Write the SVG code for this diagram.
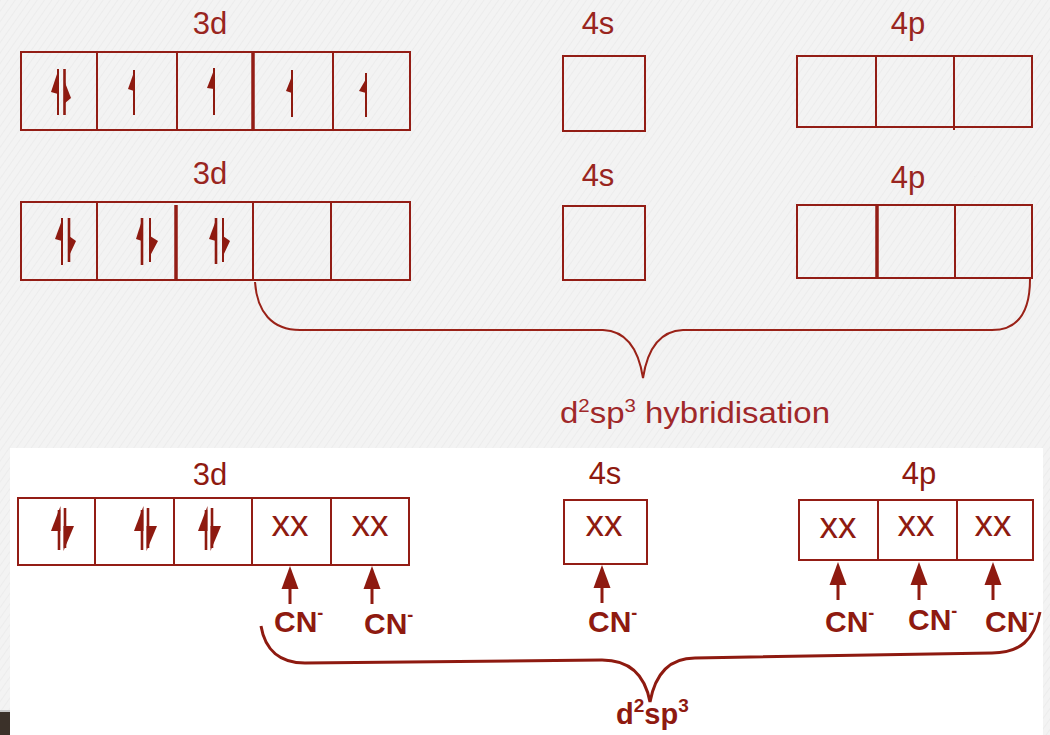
<svg xmlns="http://www.w3.org/2000/svg" width="1050" height="735" viewBox="0 0 1050 735">
  <style>
    .box { fill: none; stroke: #931d15; stroke-width: 2; }
    .thick { stroke: #931d15; stroke-width: 3.5; }
    .div { stroke: #931d15; stroke-width: 2; }
    .lbl { font-family: "Liberation Sans", Arial, sans-serif; font-size: 31px; fill: #992520; text-anchor: middle; }
    .lbl2 { font-family: "Liberation Sans", Arial, sans-serif; font-size: 31px; fill: #8e1a10; text-anchor: middle; }
    .xx { font-family: "Liberation Sans", Arial, sans-serif; font-size: 37px; fill: #8e1a10; text-anchor: middle; }
    .cn { font-family: "Liberation Sans", Arial, sans-serif; font-size: 30px; font-weight: bold; fill: #8e1a10; }
    .sup { font-size: 18px; }
    .e { stroke: #8e1a10; stroke-width: 2; fill: none; }
    .eb { stroke: #8e1a10; stroke-width: 2.6; fill: none; }
    .h { fill: #8e1a10; }
    .brace { fill: none; stroke: #9a2218; stroke-width: 2; }
    .brace2 { fill: none; stroke: #8e1a10; stroke-width: 3; }
    .lig { stroke: #8e1a10; stroke-width: 3; }
    .tip { fill: #8e1a10; }
  </style>
  <defs>
    <pattern id="grain" width="6" height="6" patternUnits="userSpaceOnUse" patternTransform="rotate(35)">
      <rect width="6" height="6" fill="#f3f3f3"/>
      <line x1="0" y1="0" x2="0" y2="6" stroke="#ececec" stroke-width="2"/>
    </pattern>
    <!-- donation arrow: tip at origin, pointing up -->
    <g id="donor">
      <line class="lig" x1="0" y1="18" x2="0" y2="38"/>
      <path class="tip" d="M0 0 L8.5 23 L-8.5 23 Z"/>
    </g>
  </defs>

  <!-- page backgrounds -->
  <rect x="0" y="0" width="1050" height="735" fill="url(#grain)"/>
  <rect x="10" y="448" width="1033" height="287" fill="#ffffff"/>
  <rect x="0" y="710" width="10" height="2" fill="#c8c8c8"/>
  <rect x="0" y="712" width="10" height="23" fill="#3b3129"/>

  <!-- ground state: 3d -->
  <g id="ground-3d">
    <text class="lbl" x="210" y="34">3d</text>
    <rect class="box" x="21" y="52" width="389" height="78"/>
    <line class="div" x1="97" y1="52" x2="97" y2="130"/>
    <line class="div" x1="177" y1="52" x2="177" y2="130"/>
    <line class="thick" x1="253" y1="52" x2="253" y2="130"/>
    <line class="div" x1="333" y1="52" x2="333" y2="130"/>
    <!-- paired electrons -->
    <line class="e" x1="58" y1="69" x2="58" y2="115"/>
    <path class="h" d="M58 71 L58 94 L51 92 Z"/>
    <line class="eb" x1="64.5" y1="69" x2="64.5" y2="115"/>
    <path class="h" d="M64 80 L71 98 L64 104 Z"/>
    <!-- unpaired electrons -->
    <line class="e" x1="134" y1="70" x2="134" y2="115"/>
    <path class="h" d="M134 72 L134 91 L128 89 Z"/>
    <line class="e" x1="214" y1="68" x2="214" y2="115"/>
    <path class="h" d="M214 70 L214 89 L207 88 Z"/>
    <line class="e" x1="292" y1="70" x2="292" y2="117"/>
    <path class="h" d="M292 76 L292 93 L286 91 Z"/>
    <line class="e" x1="366" y1="73" x2="366" y2="117"/>
    <path class="h" d="M366 79 L366 93 L359 91 Z"/>
  </g>

  <!-- ground state: 4s -->
  <g id="ground-4s">
    <text class="lbl" x="598" y="34">4s</text>
    <rect class="box" x="563" y="56" width="82" height="75"/>
  </g>

  <!-- ground state: 4p -->
  <g id="ground-4p">
    <text class="lbl" x="908" y="34">4p</text>
    <rect class="box" x="797" y="56" width="235" height="71"/>
    <line class="div" x1="876" y1="56" x2="876" y2="127"/>
    <line class="div" x1="954" y1="56" x2="954" y2="130"/>
  </g>

  <!-- excited state: 3d -->
  <g id="paired-3d">
    <text class="lbl" x="210" y="184">3d</text>
    <rect class="box" x="21" y="202" width="389" height="78"/>
    <line class="div" x1="97" y1="202" x2="97" y2="280"/>
    <line class="thick" x1="176" y1="205" x2="176" y2="280"/>
    <line class="div" x1="253" y1="202" x2="253" y2="280"/>
    <line class="div" x1="331" y1="202" x2="331" y2="280"/>
    <line class="e" x1="62" y1="218" x2="62" y2="265"/>
    <path class="h" d="M62 220 L62 241 L55 239 Z"/>
    <line class="eb" x1="69" y1="218" x2="69" y2="262"/>
    <path class="h" d="M69 236 L76 241 L69 256 Z"/>
    <line class="eb" x1="142" y1="218" x2="142" y2="265"/>
    <path class="h" d="M142 220 L142 241 L136 239 Z"/>
    <line class="e" x1="150" y1="218" x2="150" y2="262"/>
    <path class="h" d="M150 236 L158 241 L150 256 Z"/>
    <line class="eb" x1="216" y1="218" x2="216" y2="264"/>
    <path class="h" d="M216 220 L216 241 L209 239 Z"/>
    <line class="e" x1="223" y1="218" x2="223" y2="262"/>
    <path class="h" d="M223 236 L230 241 L223 256 Z"/>
  </g>

  <!-- excited state: 4s -->
  <g id="paired-4s">
    <text class="lbl" x="598" y="186">4s</text>
    <rect class="box" x="563" y="206" width="82" height="74"/>
  </g>

  <!-- excited state: 4p -->
  <g id="paired-4p">
    <text class="lbl" x="908" y="188">4p</text>
    <rect class="box" x="797" y="205" width="235" height="73"/>
    <line class="thick" x1="877" y1="205" x2="877" y2="278"/>
    <line class="div" x1="955" y1="205" x2="955" y2="278"/>
  </g>

  <!-- hybridisation brace and caption -->
  <g id="hybrid-brace">
    <path class="brace" d="M255 282 C257 312 272 330 300 330 L603 330 C628 331 639 352 643 378 C647 352 658 331 683 330 L992 330 C1016 330 1030 314 1030 279"/>
    <text font-family="'Liberation Sans', Arial, sans-serif" font-size="29" fill="#a0282a" x="560" y="423" textLength="270" lengthAdjust="spacingAndGlyphs">d<tspan font-size="18" dy="-11">2</tspan><tspan dy="11">sp</tspan><tspan font-size="18" dy="-11">3</tspan><tspan dy="11"> hybridisation</tspan></text>
  </g>

  <!-- complex: 3d -->
  <g id="complex-3d">
    <text class="lbl2" x="210" y="485">3d</text>
    <rect class="box" x="18" y="498" width="391" height="67" stroke-width="2.5"/>
    <line class="div" x1="95" y1="498" x2="95" y2="565"/>
    <line class="div" x1="174" y1="498" x2="174" y2="565"/>
    <line class="div" x1="252" y1="498" x2="252" y2="565"/>
    <line class="div" x1="331" y1="498" x2="331" y2="565"/>
    <line class="eb" x1="59" y1="510" x2="59" y2="550"/>
    <path class="h" d="M60.5 506 L60.5 531 L51 531 Z"/>
    <line class="eb" x1="65" y1="508" x2="65" y2="548"/>
    <path class="h" d="M63.5 551 L63.5 526 L74 526 Z"/>
    <line class="eb" x1="142" y1="510" x2="142" y2="550"/>
    <path class="h" d="M143.5 506 L143.5 531 L134 531 Z"/>
    <line class="eb" x1="148" y1="508" x2="148" y2="548"/>
    <path class="h" d="M146.5 551 L146.5 526 L157 526 Z"/>
    <line class="eb" x1="206" y1="510" x2="206" y2="550"/>
    <path class="h" d="M207.5 506 L207.5 531 L198 531 Z"/>
    <line class="eb" x1="212" y1="508" x2="212" y2="548"/>
    <path class="h" d="M210.5 551 L210.5 526 L221 526 Z"/>
    <text class="xx" x="290" y="536">xx</text>
    <text class="xx" x="370" y="536">xx</text>
  </g>

  <!-- complex: 4s -->
  <g id="complex-4s">
    <text class="lbl2" x="605" y="484">4s</text>
    <rect class="box" x="564" y="500" width="83" height="64" stroke-width="2.5"/>
    <text class="xx" x="604" y="536">xx</text>
  </g>

  <!-- complex: 4p -->
  <g id="complex-4p">
    <text class="lbl2" x="919" y="484">4p</text>
    <rect class="box" x="799" y="500" width="234" height="60" stroke-width="2.5"/>
    <line class="div" x1="878" y1="500" x2="878" y2="560"/>
    <line class="div" x1="957" y1="500" x2="957" y2="560"/>
    <text class="xx" x="838" y="538">xx</text>
    <text class="xx" x="916" y="536">xx</text>
    <text class="xx" x="993" y="536">xx</text>
  </g>

  <!-- cyanide ligands -->
  <g id="ligands">
    <text class="cn" x="274" y="632">CN<tspan class="sup" dy="-13">-</tspan></text>
    <text class="cn" x="364" y="634">CN<tspan class="sup" dy="-13">-</tspan></text>
    <text class="cn" x="588" y="632">CN<tspan class="sup" dy="-13">-</tspan></text>
    <text class="cn" x="825" y="632">CN<tspan class="sup" dy="-13">-</tspan></text>
    <text class="cn" x="908" y="630">CN<tspan class="sup" dy="-13">-</tspan></text>
    <text class="cn" x="985" y="632">CN<tspan class="sup" dy="-13">-</tspan></text>
  </g>

  <!-- donation arrows -->
  <g id="connectors">
    <use href="#donor" x="290" y="566"/>
    <use href="#donor" x="372" y="566"/>
    <use href="#donor" x="602" y="565"/>
    <use href="#donor" x="838" y="562"/>
    <use href="#donor" x="919" y="562"/>
    <use href="#donor" x="993" y="562"/>
  </g>

  <!-- d2sp3 brace and caption -->
  <g id="d2sp3-brace">
    <path class="brace2" d="M261 626 C265 650 280 663 305 663 L602 660 C630 660 645 675 650 702 C655 675 668 658 695 658 L992 653 C1020 653 1034 640 1040 612"/>
    <text font-family="'Liberation Sans', Arial, sans-serif" font-size="29" font-weight="bold" fill="#8e1a10" x="616" y="724">d<tspan font-size="19" dy="-12">2</tspan><tspan dy="12">sp</tspan><tspan font-size="19" dy="-12">3</tspan></text>
  </g>
</svg>
